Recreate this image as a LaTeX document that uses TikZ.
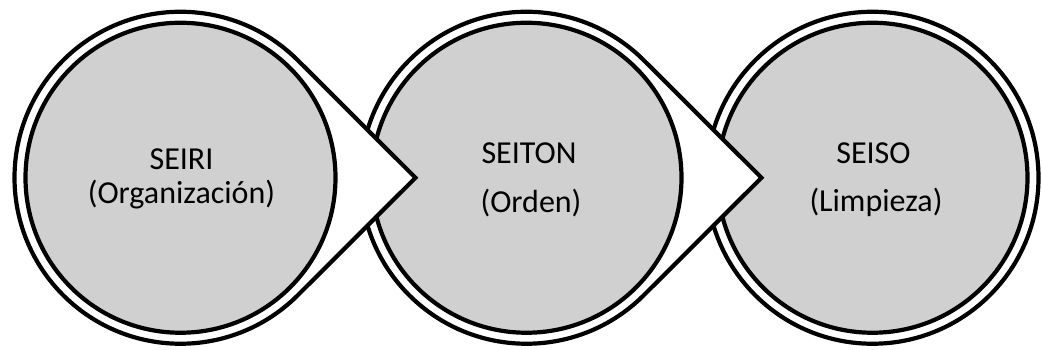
\documentclass[tikz,border=0pt]{standalone}
\usepackage{fontspec}
\setmainfont{Carlito}
\usetikzlibrary{calc}
\definecolor{stepgray}{RGB}{208,208,208}

\begin{document}
\begin{tikzpicture}[x=1pt, y=1pt,
    every node/.style={font=\fontsize{32}{38}\selectfont, inner sep=0pt},
    ring/.style={line width=4.2pt, draw=black, fill=white},
    core/.style={line width=4.2pt, draw=black, fill=stepgray}]
  \useasboundingbox (0,0) rectangle (1042,350);
  % Centres
  \coordinate (c1) at (180.5,172.25);
  \coordinate (c2) at (526.5,172.25);
  \coordinate (c3) at (872.5,172.25);
  % Last circle, no tip
  \draw[ring] (c3) circle (166);
  \draw[core] (c3) circle (155);
  % Circles with a tip, drawn right to left
  \foreach \c in {c2,c1} {
    \coordinate (tip) at ($(\c)+(235,0)$);
    \draw[ring] (tip) -- ($(\c)+(45:166)$) arc[start angle=45, end angle=315, radius=166] -- cycle;
    \draw[core] (\c) circle (155);
  }
  % Labels
  \node[anchor=base] (seiri) at (181.5,180) {SEIRI};
  \node[anchor=base] (organizacion) at (181.5,146) {(Organización)};
  \node[anchor=base] (seiton) at (529,186.7) {SEITON};
  \node[anchor=base] (orden) at (531,137.7) {(Orden)};
  \node[anchor=base] (seiso) at (873.5,186.7) {SEISO};
  \node[anchor=base] (limpieza) at (876,138) {(Limpieza)};
\end{tikzpicture}
\end{document}
